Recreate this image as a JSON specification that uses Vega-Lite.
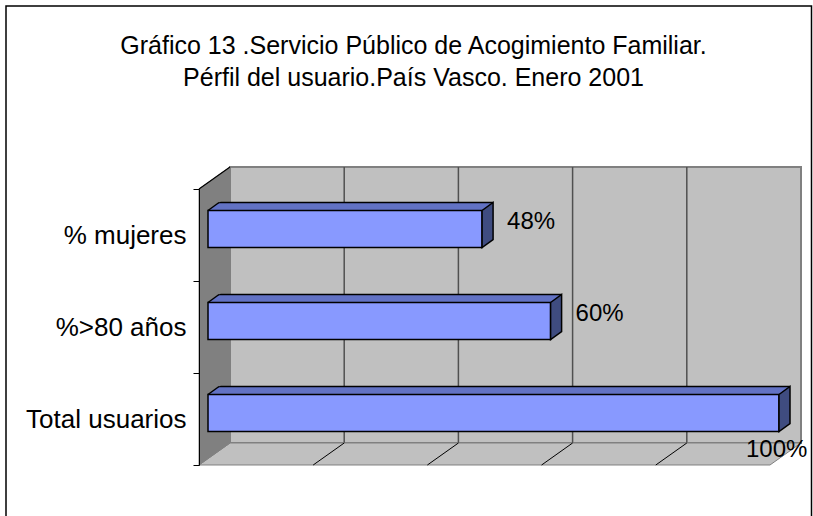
{
  "$schema": "https://vega.github.io/schema/vega-lite/v6.json",
  "width": 571,
  "height": 276,
  "autosize": {"type": "none"},
  "padding": {"left": 208, "top": 189, "right": 34, "bottom": 51},
  "background": "white",
  "config": {"view": {"stroke": null}, "font": "Liberation Sans"},
  "title": {
    "text": ["Gráfico 13 .Servicio Público de Acogimiento Familiar.", "Pérfil del usuario.País Vasco. Enero 2001"],
    "fontSize": 25,
    "font": "Liberation Sans",
    "fontWeight": "normal",
    "color": "black",
    "anchor": "middle",
    "frame": "group",
    "dx": -80,
    "offset": -88,
    "lineHeight": 32
  },
  "datasets": {
    "bars": [
      {"cat": "% mujeres", "value": 0.48},
      {"cat": "%>80 años", "value": 0.60},
      {"cat": "Total usuarios", "value": 1.0}
    ],
    "ticks": [{"t": 0.2}, {"t": 0.4}, {"t": 0.6}, {"t": 0.8}],
    "one": [{"k": 1}]
  },
  "layer": [
    {
      "data": {"name": "one"},
      "mark": {"type": "point", "shape": "M-1,-0.4834L1,-0.4834L1,0.4834L-1,0.4834Z", "size": 326041, "filled": true, "fill": "#C0C0C0", "stroke": "#808080", "strokeWidth": 2, "opacity": 1, "xOffset": 22, "yOffset": -22},
      "encoding": {"x": {"datum": 0.5, "type": "quantitative", "scale": {"domain": [0, 1], "nice": false, "zero": false}, "axis": null}}
    },
    {
      "data": {"name": "ticks"},
      "mark": {"type": "rule", "color": "#505050", "strokeWidth": 1.5, "xOffset": 22, "yOffset": -22, "y2Offset": -22},
      "encoding": {"x": {"field": "t", "type": "quantitative"}}
    },
    {
      "data": {"name": "one"},
      "mark": {"type": "point", "shape": "M-1,0.03654L0.897,0.03654L1,-0.03654L-0.897,-0.03654Z", "size": 362404, "filled": true, "fill": "#C0C0C0", "stroke": "#808080", "strokeWidth": 1, "opacity": 1, "xOffset": 292, "yOffset": 127},
      "encoding": {"x": {"datum": 0, "type": "quantitative"}}
    },
    {
      "data": {"name": "ticks"},
      "mark": {"type": "point", "shape": "M-1,0.7097L1,-0.7097", "size": 961, "filled": false, "stroke": "black", "strokeWidth": 1, "opacity": 1, "xOffset": 6.5, "yOffset": 127},
      "encoding": {"x": {"field": "t", "type": "quantitative"}}
    },
    {
      "data": {"name": "one"},
      "mark": {"type": "point", "shape": "M-0.10403,-0.85235L0.10403,-1L0.10403,0.85235L-0.10403,1Z", "size": 88804, "filled": true, "fill": "#808080", "stroke": "#808080", "strokeWidth": 1, "opacity": 1, "xOffset": 6.5, "yOffset": -11},
      "encoding": {"x": {"datum": 0, "type": "quantitative"}}
    },
    {
      "data": {"name": "one"},
      "mark": {"type": "point", "shape": "M-1,0.7097L1,-0.7097", "size": 961, "filled": false, "stroke": "black", "strokeWidth": 1.2, "opacity": 1, "xOffset": 6.5, "yOffset": -149},
      "encoding": {"x": {"datum": 0, "type": "quantitative"}}
    },
    {
      "data": {"name": "bars"},
      "mark": {"type": "bar", "height": 8, "fill": "#6272C4", "xOffset": 11, "yOffset": -28.5},
      "encoding": {
        "x": {"field": "value", "type": "quantitative", "stack": null},
        "y": {"field": "cat", "type": "nominal", "sort": ["% mujeres", "%>80 años", "Total usuarios"]}
      }
    },
    {
      "data": {"name": "bars"},
      "mark": {"type": "bar", "height": 1.5, "fill": "black", "xOffset": 11, "yOffset": -32.5},
      "encoding": {
        "x": {"field": "value", "type": "quantitative", "stack": null},
        "y": {"field": "cat", "type": "nominal", "sort": ["% mujeres", "%>80 años", "Total usuarios"]}
      }
    },
    {
      "data": {"name": "bars"},
      "mark": {"type": "point", "shape": "M-1,-1.0909L1.5,-1.0909L1,-0.7273L-1,0.7273Z", "size": 121, "filled": true, "fill": "#808080", "strokeWidth": 0, "opacity": 1, "xOffset": 5.5, "yOffset": -28.5},
      "encoding": {
        "x": {"datum": 0, "type": "quantitative"},
        "y": {"field": "cat", "type": "nominal", "sort": ["% mujeres", "%>80 años", "Total usuarios"]}
      }
    },
    {
      "data": {"name": "bars"},
      "mark": {"type": "point", "shape": "M-1,0.7273L1,-0.7273", "size": 121, "filled": false, "stroke": "black", "strokeWidth": 1.5, "opacity": 1, "xOffset": 5.5, "yOffset": -28.5},
      "encoding": {
        "x": {"datum": 0, "type": "quantitative"},
        "y": {"field": "cat", "type": "nominal", "sort": ["% mujeres", "%>80 años", "Total usuarios"]}
      }
    },
    {
      "data": {"name": "bars"},
      "mark": {"type": "bar", "height": 37, "fill": "#8899FF", "stroke": "black", "strokeWidth": 1.5, "yOffset": -6},
      "encoding": {
        "x": {"field": "value", "type": "quantitative", "stack": null},
        "y": {
          "field": "cat", "type": "nominal",
          "sort": ["% mujeres", "%>80 años", "Total usuarios"],
          "scale": {"paddingInner": 0, "paddingOuter": 0},
          "axis": {
            "title": null, "grid": false, "offset": 9, "zindex": 1,
            "domainColor": "black", "domainWidth": 1,
            "tickColor": "black", "tickSize": 6, "tickWidth": 1, "tickBand": "extent",
            "labelFont": "Liberation Sans", "labelFontSize": 26, "labelColor": "black", "labelPadding": 7
          }
        }
      }
    },
    {
      "data": {"name": "bars"},
      "mark": {"type": "point", "shape": "M-0.2444,-0.6444L0.2444,-1L0.2444,0.6444L-0.2444,1Z", "size": 2025, "filled": true, "fill": "#3F4C80", "stroke": "black", "strokeWidth": 1.5, "opacity": 1, "xOffset": 5.5, "yOffset": -10},
      "encoding": {
        "x": {"field": "value", "type": "quantitative"},
        "y": {"field": "cat", "type": "nominal", "sort": ["% mujeres", "%>80 años", "Total usuarios"]}
      }
    },
    {
      "data": {"name": "bars"},
      "transform": [{"filter": "datum.value < 1"}],
      "mark": {"type": "text", "align": "left", "baseline": "middle", "dx": 25, "dy": -13, "fontSize": 24, "font": "Liberation Sans", "color": "black"},
      "encoding": {
        "x": {"field": "value", "type": "quantitative"},
        "y": {"field": "cat", "type": "nominal", "sort": ["% mujeres", "%>80 años", "Total usuarios"]},
        "text": {"field": "value", "type": "quantitative", "format": ".0%"}
      }
    },
    {
      "data": {"name": "bars"},
      "transform": [{"filter": "datum.value >= 1"}],
      "mark": {"type": "text", "align": "left", "baseline": "middle", "dx": -33, "dy": 31, "fontSize": 24, "font": "Liberation Sans", "color": "black"},
      "encoding": {
        "x": {"field": "value", "type": "quantitative"},
        "y": {"field": "cat", "type": "nominal", "sort": ["% mujeres", "%>80 años", "Total usuarios"]},
        "text": {"field": "value", "type": "quantitative", "format": ".0%"}
      }
    },
    {
      "data": {"name": "one"},
      "mark": {"type": "point", "shape": "M-1,-0.65053L1,-0.65053L1,0.65053L-1,0.65053Z", "size": 648830, "filled": false, "stroke": "black", "strokeWidth": 1.5, "opacity": 1, "xOffset": 200.75, "yOffset": -59},
      "encoding": {"x": {"datum": 0, "type": "quantitative"}}
    }
  ]
}
